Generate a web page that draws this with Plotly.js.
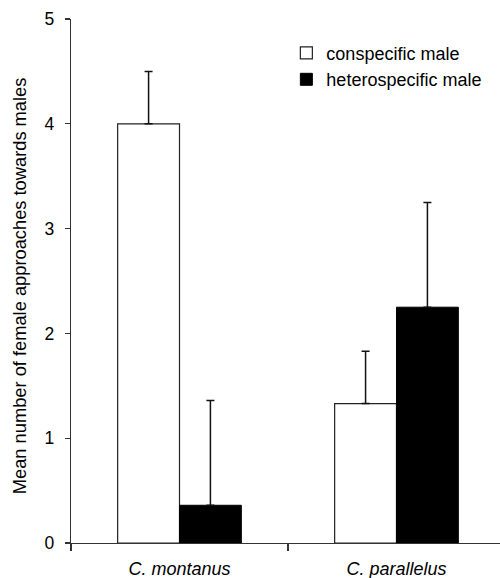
<!DOCTYPE html>
<html>
<head>
<meta charset="utf-8">
<script src="https://cdn.plot.ly/plotly-3.0.1.min.js"></script>
<style>html,body{margin:0;padding:0;background:#fff;}#chart{width:500px;height:578px;}</style>
</head>
<body>
<div id="chart"></div>
<script>
var categories = ['<i>C. montanus</i>', '<i>C. parallelus</i>'];
var seriesNames = ['conspecific male', 'heterospecific male'];
var conspecificMeans = [4.0, 1.33];
var conspecificErr = [0.5, 0.5];
var heterospecificMeans = [0.36, 2.25];
var heterospecificErr = [1.0, 1.0];
var yTicks = [0, 1, 2, 3, 4, 5];

var font = 'Liberation Sans, Arial, sans-serif';

var traces = [
  {
    type: 'bar', name: seriesNames[0], x: categories, y: conspecificMeans,
    marker: {color: '#ffffff', line: {color: '#222', width: 1.2}},
    error_y: {type: 'data', array: conspecificErr, arrayminus: [0, 0], symmetric: false,
              color: '#111', thickness: 1.5, width: 4}
  },
  {
    type: 'bar', name: seriesNames[1], x: categories, y: heterospecificMeans,
    marker: {color: '#000000', line: {color: '#000', width: 1}},
    error_y: {type: 'data', array: heterospecificErr, arrayminus: [0, 0], symmetric: false,
              color: '#111', thickness: 1.5, width: 4}
  }
];

var layout = {
  width: 500, height: 578,
  margin: {l: 71, r: 0, t: 19, b: 35.3, pad: 0},
  paper_bgcolor: '#fff', plot_bgcolor: '#fff',
  font: {family: font, size: 18, color: '#000'},
  barmode: 'group', bargap: 0.43, bargroupgap: 0,
  showlegend: true,
  legend: {x: 0.502, xanchor: 'left', y: 0.97, yanchor: 'top',
           bgcolor: 'rgba(0,0,0,0)', font: {family: font, size: 18},
           itemwidth: 30, tracegroupgap: 0},
  xaxis: {
    type: 'category', range: [-0.5, 1.477], showgrid: false, zeroline: false,
    showline: true, linecolor: '#333', linewidth: 1.2,
    ticks: 'outside', tickson: 'boundaries', ticklen: 7, tickcolor: '#333', tickwidth: 1.2,
    tickfont: {family: font, size: 18}, ticklabelstandoff: 9
  },
  yaxis: {
    range: [0, 5], tickvals: yTicks, showgrid: false, zeroline: false,
    showline: true, linecolor: '#333', linewidth: 1.2,
    ticks: 'outside', ticklen: 5, tickcolor: '#333', tickwidth: 1.2,
    tickfont: {family: font, size: 17.5}, ticklabelstandoff: 7
  },
  annotations: [{
    text: 'Mean number of female approaches towards males',
    xref: 'paper', yref: 'paper', x: -52/429, y: 0.49,
    xanchor: 'center', yanchor: 'middle', textangle: -90, showarrow: false,
    font: {family: font, size: 18.3, color: '#000'}
  }]
};

Plotly.newPlot('chart', traces, layout, {displayModeBar: false, staticPlot: true});
</script>
</body>
</html>
